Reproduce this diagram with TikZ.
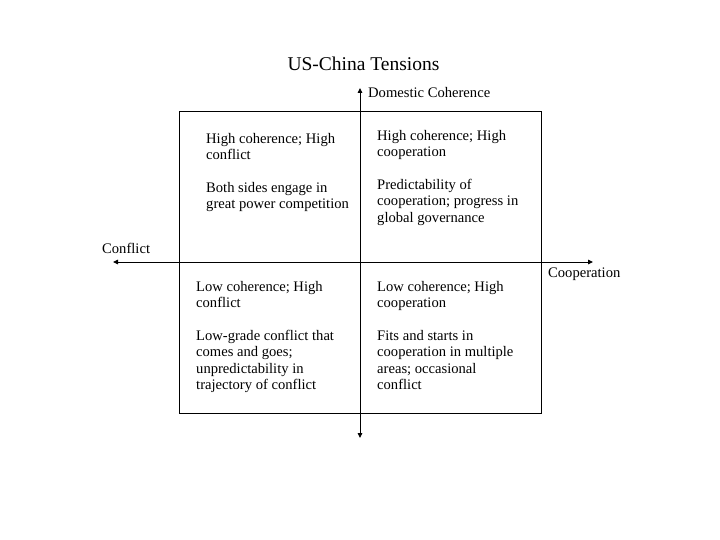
\documentclass[tikz,border=0pt]{standalone}
\usepackage{fontspec}
\setmainfont{Liberation Serif}
\usetikzlibrary{arrows.meta}
\begin{document}
\begin{tikzpicture}[x=1pt,y=-1pt,
  quadtext/.style={anchor=north west,inner sep=0pt,align=left,font=\fontsize{14.6}{16.4}\selectfont},
  axislabel/.style={inner sep=0pt,font=\fontsize{14.6}{16.4}\selectfont},
  axisline/.style={line width=0.9pt,-{Triangle[length=5pt,width=4.5pt]}}]
\useasboundingbox (0,0) rectangle (720,540);
\node[font=\fontsize{19.5}{22}\selectfont,inner sep=0pt] (title) at (363.5,64) {US-China Tensions};
\node[draw,line width=0.9pt,minimum width=362pt,minimum height=302pt,inner sep=0pt,anchor=north west] (box) at (179,111) {};
\coordinate (c) at (360,262);
\coordinate (top) at (360,88);
\coordinate (bot) at (360,438);
\coordinate (lft) at (113,262);
\coordinate (rgt) at (593,262);
\draw[axisline] (c) -- (top);
\draw[axisline] (c) -- (bot);
\draw[axisline] (c) -- (lft);
\draw[axisline] (c) -- (rgt);
\node[axislabel,anchor=west] (dom) at (368,93) {Domestic Coherence};
\node[axislabel,anchor=west] (conf) at (102,248) {Conflict};
\node[axislabel,anchor=west] (coop) at (548,274) {Cooperation};
\node[quadtext] (tl) at (206,133) {High coherence; High\\conflict\\[16.4pt]Both sides engage in\\great power competition};
\node[quadtext] (tr) at (377,130) {High coherence; High\\cooperation\\[16.4pt]Predictability of\\cooperation; progress in\\global governance};
\node[quadtext] (bl) at (196,281) {Low coherence; High\\conflict\\[16.4pt]Low-grade conflict that\\comes and goes;\\unpredictability in\\trajectory of conflict};
\node[quadtext] (br) at (377,281) {Low coherence; High\\cooperation\\[16.4pt]Fits and starts in\\cooperation in multiple\\areas; occasional\\conflict};
\end{tikzpicture}
\end{document}
